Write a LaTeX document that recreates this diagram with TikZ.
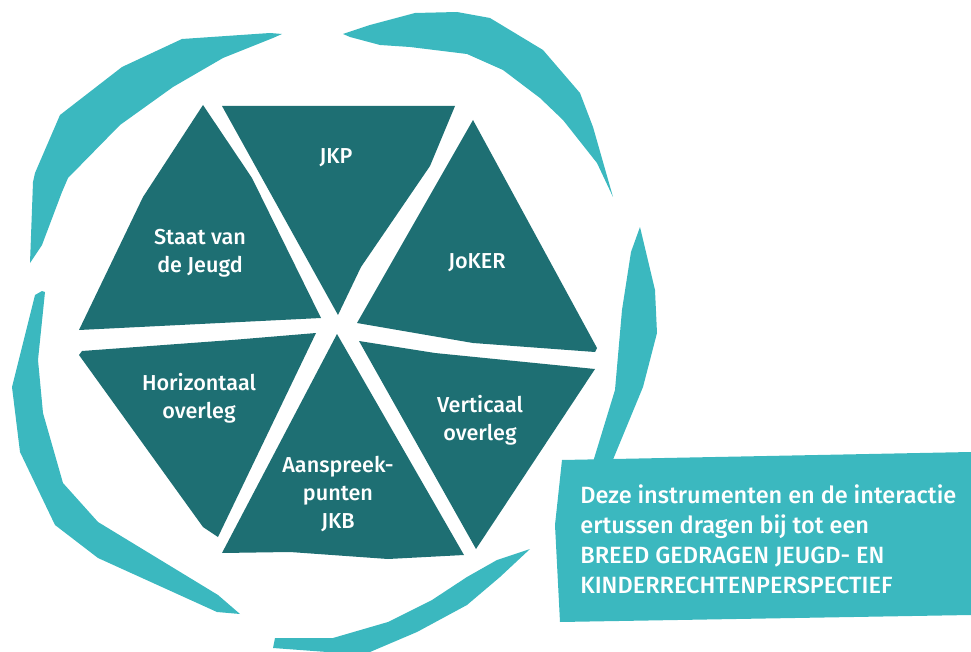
\documentclass[tikz,border=0pt]{standalone}
\usepackage{fontspec}
\setmainfont{Fira Sans}[UprightFont=* Medium]
\usepackage{tikz}
\definecolor{tealdark}{RGB}{30,111,115}
\definecolor{teallight}{RGB}{59,184,191}
\tikzset{
  tile/.style={fill=tealdark},
  band/.style={fill=teallight},
  lbl/.style={text=white, align=center, inner sep=0pt, font=\fontsize{12.3}{16}\selectfont}
}

\begin{document}
\begin{tikzpicture}[x=0.02cm,y=-0.02cm]
\useasboundingbox (0,0) rectangle (971,652);

% ring of loose strokes
\fill[band] plot coordinates {(30,263)(33,182)(35,173)(60,115)(122,67)(182,39)(270,33)(282,34)(273,38)(223,58)(173,87)(120,125)(68,178)(62,192)(42,245)} -- cycle;
\fill[band] plot coordinates {(343,34)(370,25)(415,13)(457,12)(490,18)(543,50)(580,93)(593,127)(613,197)(597,163)(563,120)(540,98)(503,70)(467,54)(410,47)(380,45)(350,37)} -- cycle;
\fill[band] plot coordinates {(640,227)(655,290)(657,333)(643,387)(612,462)(593,462)(615,390)(622,310)(631,252)} -- cycle;
\fill[band] plot coordinates {(530,549)(497,560)(467,577)(432,600)(388,622)(333,638)(275,638)(273,648)(327,652)(370,652)(417,632)(467,605)(500,577)} -- cycle;
\fill[band] plot coordinates {(42,291)(35,295)(12,387)(20,452)(55,525)(98,558)(217,612)(240,614)(218,595)(98,522)(63,483)(43,413)(38,360)(45,292)} -- cycle;

% text box
\fill[band] (562,460) -- (971,452) -- (971,615) -- (560,622) -- (555,525) -- cycle;

% the six triangles
\fill[tile] (203,105) -- (252,178) -- (321,318) -- (79,330) -- (143,197) -- cycle;
\fill[tile] (222,106) -- (455,106) -- (430,166) -- (361,267) -- (338,315) -- cycle;
\fill[tile] (473,120) -- (597,348) -- (595,352) -- (473,343) -- (357,323) -- cycle;
\fill[tile] (79,355) -- (82,351) -- (232,340) -- (316,333) -- (218,537) -- (203,527) -- cycle;
\fill[tile] (337,334) -- (464,555) -- (388,559) -- (290,552) -- (222,553) -- cycle;
\fill[tile] (359,341) -- (435,353) -- (595,369) -- (476,549) -- cycle;

\node[lbl] (staat) at (200,253) {Staat van\\de Jeugd};
\node[lbl] (jkp) at (336,158) {JKP};
\node[lbl] (joker) at (477,263) {JoKER};
\node[lbl] (horizontaal) at (199,398) {Horizontaal\\overleg};
\node[lbl] (aanspreek) at (338,494) {Aanspreek-\\punten\\JKB};
\node[lbl] (verticaal) at (480,420) {Verticaal\\overleg};

\node[anchor=north west, inner sep=0pt, text=white, align=left, font=\fontsize{13.4}{17.2}\selectfont] (besluit) at (580,484)
  {Deze instrumenten en de interactie\\ertussen dragen bij tot een\\BREED GEDRAGEN JEUGD- EN\\KINDERRECHTENPERSPECTIEF};

\end{tikzpicture}
\end{document}
